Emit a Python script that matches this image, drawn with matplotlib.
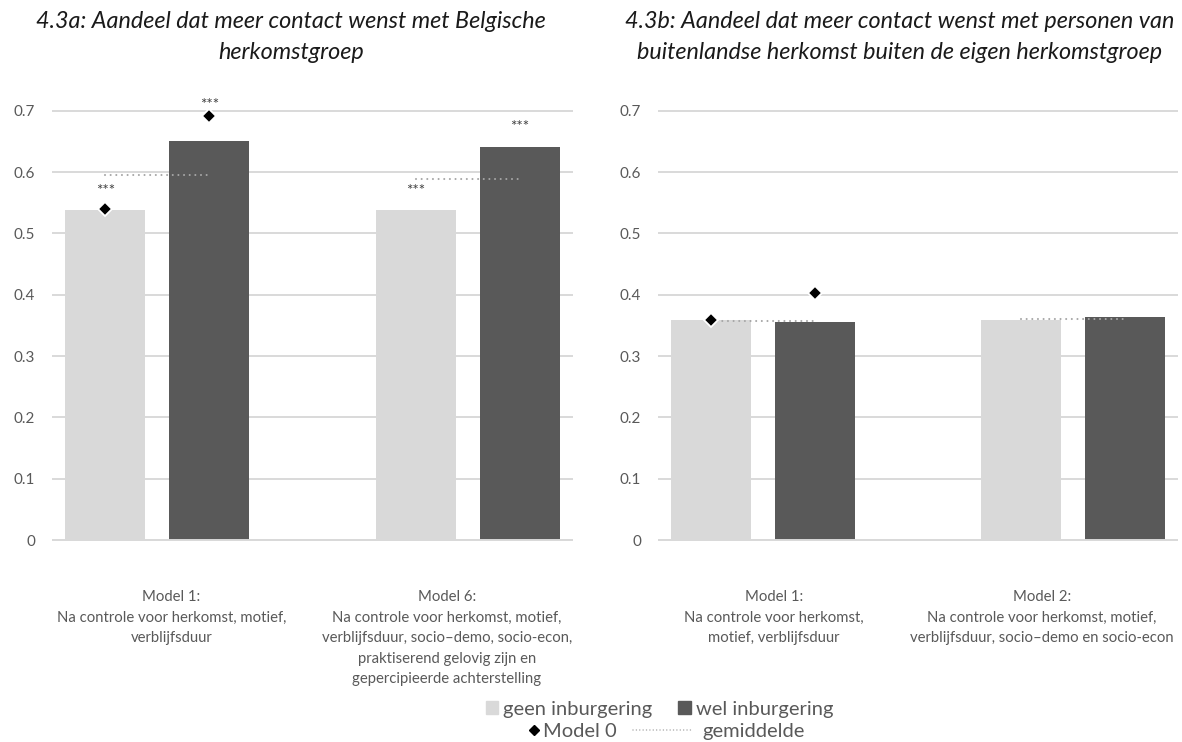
import matplotlib
matplotlib.use("Agg")
import matplotlib.pyplot as plt
from matplotlib.lines import Line2D
from matplotlib.patches import Patch
import numpy as np

plt.rcParams['font.family'] = ['Lato', 'DejaVu Sans']

W, H, DPI = 1182, 742, 100

# ---------------- data ----------------
titles = ["4.3a: Aandeel dat meer contact wenst met Belgische\nherkomstgroep",
          "4.3b: Aandeel dat meer contact wenst met personen van\nbuitenlandse herkomst buiten de eigen herkomstgroep"]
categories_a = ["Model 1:\nNa controle voor herkomst, motief,\nverblijfsduur",
                "Model 6:\nNa controle voor herkomst, motief,\nverblijfsduur, socio\u2013demo, socio-econ,\npraktiserend gelovig zijn en\ngepercipieerde achterstelling"]
categories_b = ["Model 1:\nNa controle voor herkomst,\nmotief, verblijfsduur",
                "Model 2:\nNa controle voor herkomst, motief,\nverblijfsduur, socio\u2013demo en socio-econ"]
geen_a = [0.538, 0.538]
wel_a = [0.651, 0.641]
model0_geen_a = [0.539, np.nan]
model0_wel_a = [0.692, np.nan]
mean_a = [0.595, 0.589]
sig_geen_a = ["***", "***"]
sig_wel_a = ["***", "***"]

geen_b = [0.358, 0.358]
wel_b = [0.356, 0.363]
model0_geen_b = [0.358, np.nan]
model0_wel_b = [0.402, np.nan]
mean_b = [0.357, 0.361]
sig_geen_b = ["", ""]
sig_wel_b = ["", ""]

yticks = [0, 0.1, 0.2, 0.3, 0.4, 0.5, 0.6, 0.7]
ytick_labels = ["0", "0.1", "0.2", "0.3", "0.4", "0.5", "0.6", "0.7"]
legend_labels = ["geen inburgering", "wel inburgering", "Model 0", "gemiddelde"]

# ---------------- style ----------------
LIGHT = '#D9D9D9'
DARK = '#595959'
GRID = '#D9D9D9'
TXT = '#595959'
MEAN = '#A6A6A6'
STAR = '#404040'

fig = plt.figure(figsize=(W / DPI, H / DPI), dpi=DPI)

SPACING = 310.5          # px per category
OFF = 52 / SPACING       # bar offset from category centre
BW = 80 / SPACING        # bar width
XL = 103.9 / SPACING     # margin left/right of the category centres
AX_W = (1 + 2 * XL) * SPACING / W
AX_B = (H - 540) / H
AX_H = (540 - 110.7) / H


def panel(ax, geen, wel, m0g, m0w, mean, sg, sw):
    x = np.arange(len(geen))
    ax.bar(x - OFF, geen, BW, color=LIGHT, zorder=2)
    ax.bar(x + OFF, wel, BW, color=DARK, zorder=2)
    for i in range(len(x)):
        ax.plot([x[i] - OFF, x[i] + OFF], [mean[i], mean[i]], ls=(0, (0.01, 2.7)),
                color=MEAN, lw=1.5, zorder=3, dash_capstyle='round')
    for xs, m in ((x - OFF, m0g), (x + OFF, m0w)):
        ax.plot(xs, m, 'D', ms=7, mfc='black', mec='white', mew=1.3,
                ls='none', zorder=4, clip_on=False)
    for xs, vals, m, sig in ((x - OFF, geen, m0g, sg), (x + OFF, wel, m0w, sw)):
        for xi, v, d, s in zip(xs, vals, m, sig):
            if not s:
                continue
            if not np.isnan(d) and d > v + 0.01:
                y, off = d, 9.6
            else:
                y, off = v, 15.8
            ax.annotate(s, (xi, y), xytext=(0, off - 1.8), textcoords='offset points',
                        ha='center', va='center', fontsize=11, color=STAR,
                        annotation_clip=False, zorder=5)
    ax.set_xlim(-XL, 1 + XL)
    ax.set_ylim(0, 0.7)
    ax.set_yticks(yticks, ytick_labels)
    ax.set_xticks([])
    ax.tick_params(axis='y', length=0, pad=13, labelsize=11, labelcolor=TXT)
    ax.grid(axis='y', color=GRID, lw=1.4)
    ax.set_axisbelow(True)
    for ln in ax.get_ygridlines():
        ln.set_clip_on(False)
    for s in ('top', 'right', 'left'):
        ax.spines[s].set_visible(False)
    ax.spines['bottom'].set_color(GRID)
    ax.spines['bottom'].set_linewidth(1.4)


ax1 = fig.add_axes([53.3 / W, AX_B, AX_W, AX_H])
ax2 = fig.add_axes([659 / W, AX_B, AX_W, AX_H])
panel(ax1, geen_a, wel_a, model0_geen_a, model0_wel_a, mean_a, sig_geen_a, sig_wel_a)
panel(ax2, geen_b, wel_b, model0_geen_b, model0_wel_b, mean_b, sig_geen_b, sig_wel_b)

# titles
for xc, t in ((291, titles[0]), (900, titles[1])):
    fig.text(xc / W, 1 - 37 / H, t, ha='center', va='center', fontsize=16.8,
             style='italic', color='#1a1a1a', linespacing=1.6)

# category labels
for xc, t in ((171.5, categories_a[0]), (447, categories_a[1]),
              (774, categories_b[0]), (1042, categories_b[1])):
    fig.text(xc / W, 1 - 590 / H, t, ha='center', va='top', fontsize=10.7,
             color=TXT, linespacing=1.6, multialignment='center')

# legend row 1
fig.legend(handles=[Patch(color=LIGHT), Patch(color=DARK)],
           labels=legend_labels[:2], loc='center',
           bbox_to_anchor=(659.5 / W, 1 - 709 / H), ncol=2, frameon=False,
           fontsize=14.5, handlelength=0.62, handleheight=0.62,
           handletextpad=0.25, columnspacing=1.3, borderpad=0,
           borderaxespad=0, labelcolor=TXT)
# legend row 2
fig.legend(handles=[Line2D([], [], marker='D', ls='none', mfc='black',
                           mec='black', ms=5)],
           labels=[legend_labels[2]], loc='center left',
           bbox_to_anchor=(528 / W, 1 - 731.5 / H), frameon=False,
           fontsize=14.5, handlelength=0.55, handletextpad=0.2,
           borderpad=0, borderaxespad=0, labelcolor=TXT)
fig.legend(handles=[Line2D([], [], ls=(0, (0.01, 2.2)), color=MEAN, lw=1.1,
                           dash_capstyle='round')],
           labels=[legend_labels[3]], loc='center left',
           bbox_to_anchor=(633 / W, 1 - 731.5 / H), frameon=False,
           fontsize=14.5, handlelength=2.95, handletextpad=0.5,
           borderpad=0, borderaxespad=0, labelcolor=TXT)

fig.savefig('out.png', dpi=DPI)
